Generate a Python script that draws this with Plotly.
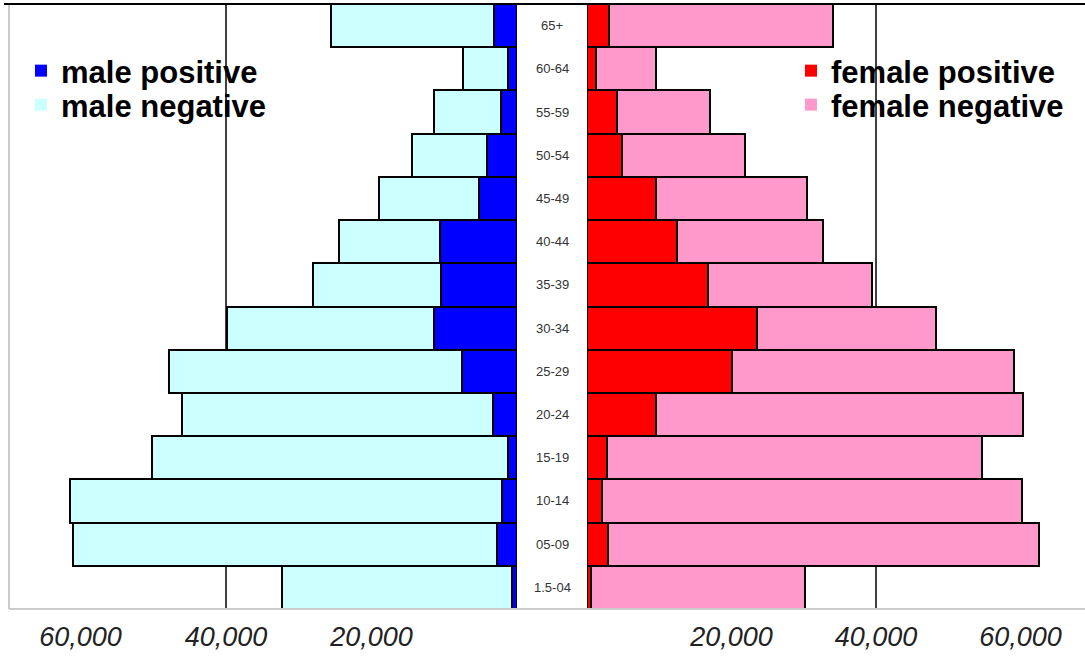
import plotly.graph_objects as go

age_groups = ["1.5-04", "05-09", "10-14", "15-19", "20-24", "25-29", "30-34",
              "35-39", "40-44", "45-49", "50-54", "55-59", "60-64", "65+"]

male_positive = [700, 2800, 2100, 1200, 3300, 7600, 11400, 10400, 10600, 5200, 4100, 2200, 1200, 3200]
male_total = [32300, 61000, 61400, 50200, 46000, 47800, 39900, 28000, 24500, 19000, 14400, 11400, 7400, 25600]
male_negative = [t - p for t, p in zip(male_total, male_positive)]

female_positive = [600, 2900, 2100, 2700, 9600, 20100, 23500, 16800, 12500, 9500, 4800, 4200, 1300, 3000]
female_total = [30200, 62600, 60200, 54700, 60400, 59100, 48300, 39400, 32600, 30500, 21800, 17000, 9500, 34000]
female_negative = [t - p for t, p in zip(female_total, female_positive)]

tick_vals = [20000, 40000, 60000]
tick_text = ["20,000", "40,000", "60,000"]
grid_val = 40000

C_MPOS = "#0000FF"
C_MNEG = "#CCFFFF"
C_FPOS = "#FF0000"
C_FNEG = "#FF99CC"

W, H = 1085, 657
left_dom = [10 / W, 517 / W]
right_dom = [587 / W, 1.0]

line = dict(color="black", width=2)
fig = go.Figure()

fig.add_trace(go.Bar(y=age_groups, x=male_positive, orientation="h", xaxis="x", yaxis="y",
                     marker=dict(color=C_MPOS, line=line), showlegend=False, name="male positive"))
fig.add_trace(go.Bar(y=age_groups, x=male_negative, orientation="h", xaxis="x", yaxis="y",
                     marker=dict(color=C_MNEG, line=line), showlegend=False, name="male negative"))
fig.add_trace(go.Bar(y=age_groups, x=female_positive, orientation="h", xaxis="x2", yaxis="y2",
                     marker=dict(color=C_FPOS, line=line), showlegend=False, name="female positive"))
fig.add_trace(go.Bar(y=age_groups, x=female_negative, orientation="h", xaxis="x2", yaxis="y2",
                     marker=dict(color=C_FNEG, line=line), showlegend=False, name="female negative"))

legend_items = [("male positive", C_MPOS, "legend"), ("male negative", C_MNEG, "legend2"),
                ("female positive", C_FPOS, "legend3"), ("female negative", C_FNEG, "legend4")]
for nm, col, lg in legend_items:
    fig.add_trace(go.Bar(y=[None], x=[None], orientation="h", xaxis="x2", yaxis="y2",
                         marker=dict(color=col, line=dict(width=0)), name=nm, legend=lg,
                         showlegend=True))

x_left_max = (517 - 10) / 7.275 * 1000
x_right_max = (1085 - 587) / 7.225 * 1000

tickfont = dict(family="Liberation Sans", size=27, color="#222222", style="italic")
legfont = dict(family="Liberation Sans", size=31, color="black", weight="bold")


def leg(xpx, top_px):
    return dict(x=xpx / W, y=1 - (top_px - 4) / 605, xanchor="left", yanchor="top",
                font=legfont, bgcolor="rgba(0,0,0,0)", itemsizing="constant")


fig.update_layout(
    width=W, height=H,
    margin=dict(l=0, r=0, t=4, b=48),
    paper_bgcolor="white", plot_bgcolor="white",
    barmode="stack", bargap=0.0,
    xaxis=dict(domain=left_dom, range=[x_left_max, 0], showgrid=False, zeroline=False,
               tickvals=tick_vals, ticktext=tick_text, tickfont=tickfont, ticks="",
               ticklabelstandoff=9, anchor="y"),
    xaxis2=dict(domain=right_dom, range=[0, x_right_max], showgrid=False, zeroline=False,
                tickvals=tick_vals, ticktext=tick_text, tickfont=tickfont, ticks="",
                ticklabelstandoff=9, anchor="y2"),
    yaxis=dict(type="category", categoryorder="array", categoryarray=age_groups,
               range=[-0.5, len(age_groups) - 0.5], showticklabels=False, showgrid=False,
               zeroline=False, showline=True, linecolor="#cccccc", linewidth=2, anchor="x"),
    yaxis2=dict(type="category", categoryorder="array", categoryarray=age_groups,
                range=[-0.5, len(age_groups) - 0.5], showticklabels=False, showgrid=False,
                zeroline=False, showline=False, anchor="x2", matches="y"),
    legend=leg(21, 44),
    legend2=leg(21, 78),
    legend3=leg(791, 44),
    legend4=leg(791, 78),
    showlegend=True,
)

shapes = []
shapes.append(dict(type="line", xref="x", yref="paper", x0=grid_val, x1=grid_val, y0=0, y1=1,
                   line=dict(color="black", width=1.5), layer="below"))
shapes.append(dict(type="line", xref="x2", yref="paper", x0=grid_val, x1=grid_val, y0=0, y1=1,
                   line=dict(color="black", width=1.5), layer="below"))
shapes.append(dict(type="line", xref="paper", yref="paper", x0=9 / W, x1=1, y0=0, y1=0,
                   line=dict(color="#cccccc", width=2), layer="above"))
shapes.append(dict(type="line", xref="paper", yref="paper", x0=4 / W, x1=1, y0=1.0, y1=1.0,
                   line=dict(color="black", width=2), layer="above"))
fig.update_layout(shapes=shapes)

annotations = []
for ag in age_groups:
    annotations.append(dict(x=552 / W, xref="paper", y=ag, yref="y", text=ag, showarrow=False,
                            xanchor="center", yanchor="middle",
                            font=dict(family="Liberation Sans", size=13, color="#333333")))
fig.update_layout(annotations=annotations)

fig.write_html("out.html", config={"displayModeBar": False},
               post_script="document.body.style.margin='0';")
